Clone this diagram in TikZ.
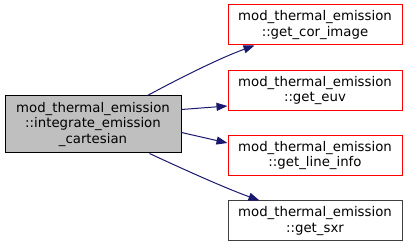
\documentclass[tikz,border=0pt]{standalone}
\usepackage{fontspec}
\setmainfont{DejaVu Sans}
\usetikzlibrary{arrows.meta}
\definecolor{edgeblue}{HTML}{191970}
\definecolor{boxgray}{HTML}{BFBFBF}
\definecolor{boxdark}{HTML}{404040}
\tikzset{
  fn/.style={draw, line width=1pt, align=center, inner sep=0pt,
    minimum width=174pt, minimum height=40pt,
    font=\fontsize{13.3}{15.5}\selectfont},
  redfn/.style={fn, draw=red},
  edge/.style={draw=edgeblue, line width=1pt,
    -{Triangle[length=11pt,width=8pt,fill=edgeblue]}},
}
\begin{document}
\begin{tikzpicture}[x=1pt,y=-1pt]
\useasboundingbox (0,0) rectangle (408,248);
\node[fn, fill=boxgray, draw=black, minimum width=176pt, minimum height=57pt] (L) at (93,124.5)
  {mod\_thermal\_emission\\::integrate\_emission\\\_cartesian};
\node[redfn] (A) at (315,25) {mod\_thermal\_emission\\::get\_cor\_image};
\node[redfn] (B) at (315,90.5) {mod\_thermal\_emission\\::get\_euv};
\node[redfn] (C) at (315,155.5) {mod\_thermal\_emission\\::get\_line\_info};
\node[fn, draw=boxdark] (D) at (315,221) {mod\_thermal\_emission\\::get\_sxr};
\draw[edge] ([xshift=143pt]L.north west) .. controls (180,78) and (220,58) .. ([xshift=27pt]A.south west);
\draw[edge] ([yshift=-14pt]L.north east) -- ([yshift=5pt]B.south west);
\draw[edge] ([yshift=21pt]L.south east) -- ([yshift=-8pt]C.north west);
\draw[edge] ([xshift=145pt]L.south west) .. controls (185,170) and (225,188) .. ([xshift=32pt]D.north west);
\end{tikzpicture}
\end{document}
